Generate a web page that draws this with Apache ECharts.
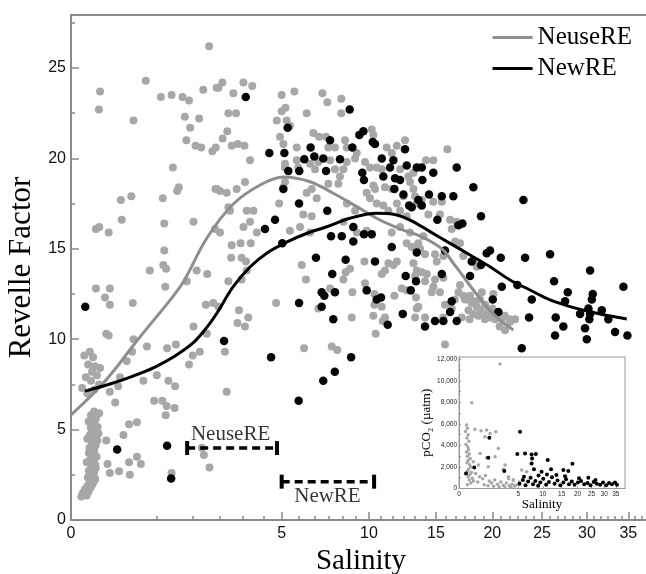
<!DOCTYPE html>
<html>
<head>
<meta charset="utf-8">
<script src="https://cdn.jsdelivr.net/npm/echarts@6/dist/echarts.min.js"></script>
<style>
  html, body { margin: 0; padding: 0; background: #fff; }
  #chart { width: 646px; height: 574px; }
</style>
</head>
<body>
<div id="chart"></div>
<script>
// observations: [salinity, Revelle factor]
const neusePoints = [
  [2.15,26.2],[0.095,23.7],[0.088,22.7],[0.63,24.3],[0.44,22.1],[0.91,23.4],[1.14,23.5],[1.40,23.4],[1.57,23.2],[1.97,23.8],
  [2.39,23.9],[1.46,22.3],[1.85,22.2],[1.60,21.7],[1.50,21.0],[1.75,20.7],[1.91,20.6],[2.25,20.4],[2.36,20.6],[1.17,19.5],
  [1.31,18.4],[1.27,18.2],[2.35,18.3],[0.28,17.7],[0.41,17.9],[0.95,17.8],[0.29,16.6],[1.69,16.5],[0.07,16.1],[0.09,16.2],
  [0.16,15.9],[0.98,16.4],[0.98,14.9],[0.70,13.8],[0.96,14.1],[1.02,13.9],[1.78,13.8],[2.09,13.6],[0.07,12.8],[0.17,12.8],
  [1.00,12.9],[1.51,13.2],[0.13,12.3],[0.17,11.9],[0.43,12.0],[0.14,10.3],[0.16,10.2],[0.44,10.0],[0.65,9.6],[0.42,9.3],
  [1.57,8.6],[1.69,10.7],[2.05,11.9],[1.67,9.1],[1.87,9.3],[1.04,9.5],[1.24,9.7],
  [0.02,9.1],[0.04,9.3],[0.055,9.0],[0.033,8.6],[0.065,8.5],[0.05,8.2],[0.076,8.0],[0.025,7.9],[0.045,7.7],[0.088,7.5],
  [0.06,7.2],[0.03,7.0],[0.014,7.3],[0.095,8.4],
  [0.17,7.1],[0.25,7.4],[0.35,8.8],[0.22,6.5],[0.27,7.9],[0.59,7.7],[0.83,8.0],[1.07,7.7],[1.22,7.4],[0.78,6.6],
  [0.94,6.6],[1.03,6.3],[1.01,5.8],[1.21,6.2],[0.14,4.4],[0.31,4.7],[0.38,5.3],[0.49,5.4],[0.15,3.1],[0.17,2.6],
  [0.26,2.7],[0.38,3.2],[0.49,3.5],[0.55,3.1],[0.39,2.5],[1.14,2.6],[2.16,2.9],[1.99,3.6],[0.09,5.9],
  [0.06,6.0],[0.045,5.8],[0.07,5.6],[0.035,5.45],[0.062,5.3],[0.08,5.15],[0.05,5.0],[0.072,4.85],[0.04,4.7],[0.058,4.55],
  [0.078,4.4],[0.048,4.3],[0.068,4.12],[0.038,3.98],[0.061,3.82],[0.05,3.63],[0.074,3.5],[0.042,3.34],[0.057,3.18],[0.047,3.02],
  [0.069,2.88],[0.036,2.72],[0.059,2.58],[0.051,2.41],[0.066,2.27],[0.04,2.12],[0.052,1.98],[0.031,1.9],[0.043,1.78],[0.022,1.7],
  [0.034,1.58],[0.016,1.5],[0.024,1.41],[0.012,1.3],[0.028,1.36],[0.056,5.67],[0.044,5.12],[0.067,4.25],[0.036,3.7],[0.066,3.06],
  [0.046,2.53],[0.061,2.18],[0.081,5.88],[0.085,4.78],[0.03,4.5],[0.028,3.2],[0.032,2.35],
  [2.45,23.9],[2.58,24.2],[2.97,23.6],[3.35,24.2],[3.70,24.0],[2.79,22.5],[3.07,22.5],[2.75,21.5],[2.59,21.1],[2.91,20.7],
  [3.13,20.8],[3.39,20.7],[3.61,19.9],[5.00,23.5],[5.62,23.7],[5.00,22.6],[5.18,22.8],[4.77,22.1],[5.24,22.1],[5.40,21.8],
  [6.26,22.5],[7.12,23.6],[7.40,23.1],[8.23,23.3],[8.23,22.5],[4.92,21.2],[5.08,20.8],[5.74,20.6],[6.62,21.4],[6.93,21.2],
  [7.33,21.2],[7.46,20.6],[7.85,20.6],[8.46,21.0],[8.57,20.6],[10.19,21.6],[10.30,21.3],[9.20,20.3],[9.09,20.0],[9.74,19.8],
  [5.16,19.7],[5.16,19.5],[5.74,19.9],[5.82,19.5],[6.44,19.7],[6.71,19.4],[6.89,19.8],[7.56,19.9],[7.85,19.4],[8.15,19.0],
  [8.36,19.4],[8.57,19.8],[10.07,19.5],[10.53,19.5],[10.88,19.4],[11.23,20.6],[11.59,20.3],[11.96,20.7],[12.57,21.0],[12.20,19.4],
  [12.82,19.0],[13.21,19.2],[13.59,19.5],[10.30,18.5],[10.41,18.3],[11.11,18.4],[11.59,18.3],[11.96,17.5],[12.45,17.9],[13.21,18.3],
  [5.16,18.7],[5.08,18.4],[2.39,18.3],[2.50,18.2],[2.73,18.1],[3.09,18.3],[3.41,18.7],[6.26,18.1],[6.53,18.3],[6.80,17.8],
  [7.46,18.6],[8.05,18.6],[8.57,17.5],[9.09,17.1],[9.85,18.1],[10.07,17.8],[10.53,17.5],[10.99,17.4],[11.35,17.1],[12.20,17.1],
  [12.70,16.8],[13.47,17.5],[3.48,17.1],[3.75,17.1],[4.88,17.5],[6.08,16.9],[6.53,16.8],[3.35,16.2],[3.61,16.5],[3.89,15.9],
  [2.79,17.3],[2.85,17.1],[5.40,16.0],[5.91,16.2],[6.44,15.9],[8.36,16.5],[8.98,16.2],[9.20,15.9],[9.85,16.0],[11.59,15.9],
  [12.20,16.2],[12.95,15.9],[2.50,15.9],[2.34,16.1],
  [2.91,15.2],[3.24,15.3],[3.64,15.3],[2.89,14.5],[3.28,14.5],[3.45,14.3],[2.79,13.2],[3.28,13.3],[3.48,13.8],[6.00,14.1],
  [6.22,13.3],[2.28,12.0],[2.45,11.8],[3.18,11.6],[3.54,11.2],[3.12,10.9],[3.41,10.7],[4.74,12.0],[2.08,10.3],[2.67,9.3],
  [6.12,9.5],[7.66,9.6],[7.99,9.4],[6.89,11.7],[7.56,12.8],[8.36,13.3],[8.50,13.7],[8.77,13.9],[8.92,12.6],[8.88,11.2],
  [9.70,14.3],[9.74,13.1],[10.37,12.5],[10.37,11.9],[10.30,11.3],[10.88,13.6],[11.11,13.8],[11.35,14.2],[11.71,14.1],[11.96,14.3],
  [10.88,11.8],[11.11,11.2],[10.95,11.0],[11.78,12.4],[12.32,12.8],[12.70,12.7],[13.41,12.3],[13.59,11.8],[10.46,10.3],[12.70,15.3],
  [13.21,15.1],[13.59,15.3],[2.73,7.1],[1.93,4.0],
  [15.96,20.5],[14.20,19.9],[14.79,19.9],[12.95,18.7],[13.34,17.9],[13.86,17.7],[14.79,17.6],[15.49,17.6],[14.39,16.9],[15.34,16.9],
  [16.19,16.6],[16.33,16.1],[16.76,16.5],[16.62,15.4],[17.05,15.3],[13.99,15.7],[13.08,15.1],[13.73,15.0],[14.12,14.7],[14.93,14.7],
  [15.07,14.3],[15.62,14.6],[13.21,14.2],[13.47,13.8],[13.86,13.7],[13.34,13.5],[14.26,13.6],[14.12,13.2],[14.93,13.3],[15.62,13.4],
  [17.34,14.6],[18.24,14.3],[18.55,14.0],[14.79,12.9],[15.34,12.6],[14.66,12.6],[17.05,13.0],[16.91,12.6],[17.34,12.4],[17.79,12.2],
  [18.09,12.0],[18.55,11.8],[18.85,11.6],[19.16,11.4],[19.78,11.2],[20.26,11.1],[20.91,11.1],[21.72,11.1],[22.22,11.1],[18.24,11.4],
  [18.69,11.3],[19.01,12.6],[20.10,12.5],[15.76,11.9],[16.33,11.7],[15.62,11.2],[13.47,11.7],[13.34,11.2],[14.12,11.2],[21.23,10.5],
  [15.76,9.7],[17.49,12.2],[17.94,12.4],[18.39,12.1],[19.32,11.9],[19.63,11.6],[20.0,11.7],[20.5,11.5],[21.2,11.3],[21.7,10.95],
  [17.8,11.6],[17.2,11.2],[16.6,12.2],[19.3,11.1],[20.7,10.7],[20.3,11.5],[18.85,12.2],[17.9,11.1]
]

const newPoints = [
  [0.023,11.8],[0.24,3.9],[1.04,4.1],[1.13,2.3],[3.44,23.4],[8.75,22.7],[5.29,21.7],[9.63,21.5],[9.37,21.3],[7.56,21.0],
  [4.43,20.3],[5.13,20.3],[6.47,20.6],[6.67,20.1],[7.17,20.0],[8.15,19.95],[6.13,19.95],[8.92,20.6],[10.26,20.9],[10.41,20.8],
  [12.57,20.5],[11.71,19.9],[11.47,19.5],[10.88,20.0],[12.70,19.6],[13.47,19.5],[5.32,19.3],[5.87,19.3],[7.33,19.3],[9.56,19.2],
  [9.67,18.8],[10.99,19.0],[11.83,18.9],[12.20,18.8],[11.78,18.3],[12.45,18.0],[12.88,17.4],[13.59,17.7],[5.08,18.3],[5.86,17.5],
  [7.40,17.1],[4.69,16.6],[4.24,16.1],[8.98,16.2],[7.62,15.7],[8.26,15.7],[9.67,15.8],[10.19,15.8],[5.03,15.3],[8.98,15.4],
  [11.59,15.1],[13.47,14.8],[6.76,14.5],[8.50,14.4],[10.41,14.3],[7.69,13.6],[12.62,13.5],[13.41,13.2],[13.01,12.7],[7.08,12.6],
  [7.23,12.4],[7.85,12.6],[9.85,12.7],[5.86,12.0],[7.08,11.8],[10.53,12.2],[10.83,12.3],[12.40,11.4],[7.75,11.1],[11.30,10.8],
  [2.64,9.9],[4.51,9.0],[8.84,9.0],[7.84,8.2],[7.17,7.7],[5.84,6.6],[13.86,19.5],[14.79,19.2],[16.76,19.5],[13.91,18.8],
  [18.24,18.4],[23.06,17.7],[14.44,18.0],[15.49,17.9],[16.47,17.9],[13.86,17.4],[13.08,17.3],[18.94,16.8],[15.12,16.6],[16.91,16.3],
  [17.26,16.4],[15.76,14.9],[19.47,14.75],[19.78,14.9],[18.09,14.3],[18.94,14.1],[20.81,14.5],[23.23,14.5],[25.86,14.7],[15.49,13.6],
  [17.94,13.5],[20.91,12.9],[22.45,13.0],[26.29,13.2],[30.36,13.8],[34.38,12.9],[16.33,12.1],[16.19,11.5],[20.04,12.2],[23.92,12.2],
  [27.80,12.6],[27.50,12.1],[30.67,12.5],[30.56,12.2],[20.58,11.5],[29.20,11.4],[30.16,11.7],[30.36,11.4],[31.74,11.6],[30.27,11.1],
  [32.53,11.1],[14.93,11.0],[15.62,11.0],[16.76,11.0],[14.12,10.7],[23.64,11.2],[26.47,11.2],[27.31,10.7],[29.77,10.6],[29.97,10.0],
  [26.40,10.2],[33.35,10.4],[34.88,10.2],[22.89,9.5]
]

// fitted curves
const neuseCurveSal = [0, 0.022, 0.095, 0.22, 0.42, 0.70, 1.04, 1.42, 2.08, 2.97, 4.03, 5.08, 6.44, 7.75, 9.20, 10.76, 12.20, 13.60, 14.52, 15.61, 16.47, 17.35, 18.24, 19.47, 20.74, 22.05]
const neuseCurveRev = [5.81, 6.54, 7.37, 8.35, 9.57, 10.79, 11.95, 13.16, 15.60, 17.48, 18.53, 18.97, 18.71, 18.07, 17.33, 16.59, 16.10, 15.74, 15.43, 14.93, 14.20, 13.46, 12.72, 11.80, 11.06, 10.51]
const newCurveSal = [0.022, 0.171, 0.433, 0.795, 1.219, 1.677, 2.085, 2.402, 2.958, 3.61, 4.33, 5.26, 6.28, 7.37, 8.77, 10.54, 11.70, 12.95, 14.52, 16.19, 17.94, 19.78, 21.72, 23.74, 25.86, 28.06, 30.36, 32.74, 34.80]
const newCurveRev = [7.13, 7.52, 7.96, 8.46, 9.07, 9.79, 10.67, 11.45, 12.89, 13.99, 14.77, 15.38, 15.86, 16.22, 16.69, 16.96, 16.91, 16.59, 15.95, 15.30, 14.66, 14.01, 13.27, 12.72, 12.17, 11.80, 11.52, 11.28, 11.12]

// salinity ranges of the two estuaries
const neuseRange = [1.52, 4.78]
const neuseRangeRev = 3.98
const newRange = [5.0, 10.35]
const newRangeRev = 2.12
const rangeLabels = [
  { name: 'NeuseRE', sal: 2.87, rev: 4.75 },
  { name: 'NewRE', sal: 7.41, rev: 1.3 }
]

// inset: [salinity, pCO2]
const insetNeuse = [
  [2.39,11570],[0.23,7970],[0.36,5520],[0.69,5370],[1.09,5430],[1.37,5120],[1.92,5270],[0.96,4810],[2.2,3720],[0.63,3250],
  [1.09,2850],[1.85,2950],[0.29,2480],[0.53,2180],[1.22,2020],[3.01,2180],[2.8,1800],
  [0.08,5900],[0.1,5600],[0.06,5300],[0.12,5000],[0.09,4700],[0.14,4400],[0.07,4100],[0.11,3850],[0.13,3600],[0.08,3400],
  [0.15,3200],[0.1,3000],[0.18,2800],[0.12,2600],[0.09,2400],[0.16,2200],[0.2,2000],[0.13,1800],[0.1,1600],[0.22,1500],
  [0.17,1300],[0.12,1100],[0.25,950],[0.15,800],[0.3,700],[0.2,500],[0.1,350],
  [0.4,1400],[0.6,1100],[0.8,900],[1.0,1200],[1.3,700],[1.5,500],[1.8,800],[2.1,400],[2.5,600],[2.8,300],
  [3.2,500],[3.6,250],[4.0,400],[4.4,200],[0.5,600],[0.9,350],[1.2,250],[1.7,200],[2.3,150],[3.0,150],
  [3.8,120],[4.6,300],[5.6,1710],[6.5,1550],[3.5,900],[4.2,800],[5.2,600],[3.46,1090],[4.2,780]
]
const insetNew = [
  [5.3,5270],[1.31,4710],[1.22,2850],[0.33,1950],[0.07,1400],[2.92,1620],[4.84,3200],[6.2,3260],[7.5,3160],[8.4,3200],
  [7.6,2790],[7.5,2330],[8.0,1800],[11.2,2640],[9.7,1550],[12.05,1800],[18.3,2300],[15.5,1710],[17.0,1620],[23.8,1000],
  [5.2,450],[5.8,800],[6.3,300],[6.8,650],[7.3,1000],[7.8,400],[8.3,700],[8.9,250],[9.4,550],[10.1,900],
  [10.8,350],[11.5,600],[12.3,1050],[13.0,450],[13.8,750],[14.6,300],[15.5,550],[16.3,850],[17.2,400],[18.1,650],
  [19.0,350],[20.1,550],[21.2,700],[22.3,400],[23.5,500],[24.6,300],[25.8,600],[27.0,450],[28.3,350],[29.5,550],
  [30.8,300],[32.0,500],[33.3,400],[34.6,550],[35.5,350],[6.0,1100],[9.0,1200],[11.0,1300],[13.5,1250],[16.0,1150],
  [20.5,950],[26.5,800]
]

// tick labels
const salinityTicks = [0, 5, 10, 15, 20, 25, 30, 35]
const revelleTicks = [0, 5, 10, 15, 20, 25]
const revelleMinorTicks = [2.5, 7.5, 12.5, 17.5, 22.5, 27.5]
const pco2Ticks = [0, 2000, 4000, 6000, 8000, 10000, 12000]
const pco2MinorTicks = [1000, 3000, 5000, 7000, 9000, 11000]

// salinity axis is square-root scaled
const sq = v => Math.sqrt(v)
const toXY = pts => pts.map(p => [sq(p[0]), p[1]])
const salMinor = []
for (let k = 1; k * 5 / 6 < 37.5; k++) {
  if (k % 6 !== 0) salMinor.push(sq(k * 5 / 6))
}

const GREY = '#a7a7a7'
const GREY_LINE = '#8e8e8e'
const AXIS = '#8a8a8a'
const SANS = 'Liberation Sans'
const SERIF = 'Liberation Serif'

const chart = echarts.init(document.getElementById('chart'))

chart.setOption({
  animation: false,
  backgroundColor: '#fff',
  legend: {
    data: ['NeuseRE', 'NewRE'],
    orient: 'vertical',
    right: 9,
    top: 20,
    icon: 'rect',
    itemWidth: 40,
    itemHeight: 3,
    itemGap: 6,
    textStyle: { fontFamily: SERIF, fontSize: 25, color: '#000' }
  },
  grid: [
    {
      left: 71, top: 15, right: -5, bottom: 54, containLabel: false, outerBoundsMode: 'none',
      show: true, borderColor: AXIS, borderWidth: 2
    },
    {
      left: 459, top: 357, right: 21, bottom: 85.5, containLabel: false, outerBoundsMode: 'none',
      show: true, borderColor: '#999', borderWidth: 1, backgroundColor: '#fff'
    }
  ],
  xAxis: [
    {
      gridIndex: 0, type: 'value', min: 0, max: sq(37.9),
      name: 'Salinity', nameLocation: 'middle', nameGap: 26,
      nameTextStyle: { fontFamily: SERIF, fontSize: 29, color: '#000' },
      axisLine: { show: true, onZero: false, lineStyle: { color: AXIS, width: 2 } },
      axisTick: { show: true, inside: true, length: 8, customValues: salinityTicks.map(sq), lineStyle: { color: AXIS, width: 1.5 } },
      axisLabel: {
        customValues: salinityTicks.map(sq), margin: 6,
        formatter: v => Math.round(v * v),
        fontFamily: SANS, fontSize: 16, color: '#111'
      },
      splitLine: { show: false }
    },
    {
      gridIndex: 0, type: 'value', min: 0, max: sq(37.9), position: 'bottom',
      axisLine: { show: false, onZero: false },
      axisTick: { show: true, inside: true, length: 4, customValues: salMinor, lineStyle: { color: AXIS, width: 1.5 } },
      axisLabel: { show: false },
      splitLine: { show: false }
    },
    {
      gridIndex: 1, type: 'value', min: 0, max: sq(39.2),
      name: 'Salinity', nameLocation: 'middle', nameGap: 4,
      nameTextStyle: { fontFamily: SERIF, fontSize: 13, color: '#000' },
      axisLine: { show: true, onZero: false, lineStyle: { color: '#999', width: 1 } },
      axisTick: { show: true, inside: true, length: 2, customValues: salinityTicks.map(sq), lineStyle: { color: '#999' } },
      axisLabel: {
        customValues: salinityTicks.map(sq), margin: 2,
        formatter: v => Math.round(v * v),
        fontFamily: SANS, fontSize: 6.5, color: '#222'
      },
      splitLine: { show: false }
    }
  ],
  yAxis: [
    {
      gridIndex: 0, type: 'value', min: 0, max: 27.93,
      name: 'Revelle Factor', nameLocation: 'middle', nameGap: 30,
      nameTextStyle: { fontFamily: SERIF, fontSize: 31, color: '#000' },
      axisLine: { show: true, onZero: false, lineStyle: { color: AXIS, width: 2 } },
      axisTick: { show: true, inside: true, length: 8, customValues: revelleTicks, lineStyle: { color: AXIS, width: 1.5 } },
      axisLabel: { customValues: revelleTicks, margin: 5, fontFamily: SANS, fontSize: 16, color: '#111' },
      splitLine: { show: false }
    },
    {
      gridIndex: 0, type: 'value', min: 0, max: 27.93, position: 'left',
      axisLine: { show: false, onZero: false },
      axisTick: { show: true, inside: true, length: 4, customValues: revelleMinorTicks, lineStyle: { color: AXIS, width: 1.5 } },
      axisLabel: { show: false },
      splitLine: { show: false }
    },
    {
      gridIndex: 1, type: 'value', min: 0, max: 12230,
      name: 'pCO\u2082 (\u00b5atm)', nameLocation: 'middle', nameGap: 15,
      nameTextStyle: { fontFamily: SERIF, fontSize: 13, color: '#000' },
      axisLine: { show: true, onZero: false, lineStyle: { color: '#999', width: 1 } },
      axisTick: { show: true, inside: true, length: 2, customValues: pco2Ticks.concat(pco2MinorTicks), lineStyle: { color: '#999' } },
      axisLabel: { customValues: pco2Ticks, margin: 2, fontFamily: SANS, fontSize: 6.5, color: '#222' },
      splitLine: { show: false }
    }
  ],
  series: [
    {
      name: 'NeuseRE data', type: 'scatter', xAxisIndex: 0, yAxisIndex: 0,
      data: toXY(neusePoints), symbolSize: 8, itemStyle: { color: GREY, opacity: 1 }, silent: true
    },
    {
      name: 'NewRE data', type: 'scatter', xAxisIndex: 0, yAxisIndex: 0,
      data: toXY(newPoints), symbolSize: 8.5, itemStyle: { color: '#050505', opacity: 1 }, silent: true
    },
    {
      name: 'NeuseRE', type: 'line', xAxisIndex: 0, yAxisIndex: 0, z: 4,
      data: neuseCurveSal.map((s, i) => [sq(s), neuseCurveRev[i]]),
      smooth: 0.35, showSymbol: false, color: GREY_LINE,
      lineStyle: { color: GREY_LINE, width: 3 }
    },
    {
      name: 'NewRE', type: 'line', xAxisIndex: 0, yAxisIndex: 0, z: 4,
      data: newCurveSal.map((s, i) => [sq(s), newCurveRev[i]]),
      smooth: 0.35, showSymbol: false, color: '#000',
      lineStyle: { color: '#000', width: 3 }
    },
    {
      name: 'NeuseRE range', type: 'line', xAxisIndex: 0, yAxisIndex: 0, z: 5,
      data: neuseRange.map(s => [sq(s), neuseRangeRev]),
      symbol: 'rect', symbolSize: [4, 14], itemStyle: { color: '#000' },
      lineStyle: { color: '#000', width: 3.5, type: [8, 5] }
    },
    {
      name: 'NewRE range', type: 'line', xAxisIndex: 0, yAxisIndex: 0, z: 5,
      data: newRange.map(s => [sq(s), newRangeRev]),
      symbol: 'rect', symbolSize: [4, 14], itemStyle: { color: '#000' },
      lineStyle: { color: '#000', width: 3.5, type: [8, 5] }
    },
    {
      name: 'range labels', type: 'scatter', xAxisIndex: 0, yAxisIndex: 0, z: 6,
      data: rangeLabels.map(d => ({ name: d.name, value: [sq(d.sal), d.rev] })),
      symbolSize: 0, silent: true,
      label: {
        show: true, position: 'inside', formatter: '{b}',
        fontFamily: SERIF, fontSize: 21, color: '#000'
      }
    },
    {
      name: 'inset NeuseRE', type: 'scatter', xAxisIndex: 2, yAxisIndex: 2,
      data: toXY(insetNeuse), symbolSize: 3.5, itemStyle: { color: GREY, opacity: 1 }, silent: true
    },
    {
      name: 'inset NewRE', type: 'scatter', xAxisIndex: 2, yAxisIndex: 2,
      data: toXY(insetNew), symbolSize: 4, itemStyle: { color: '#000', opacity: 1 }, silent: true
    }
  ]
})
</script>
</body>
</html>
